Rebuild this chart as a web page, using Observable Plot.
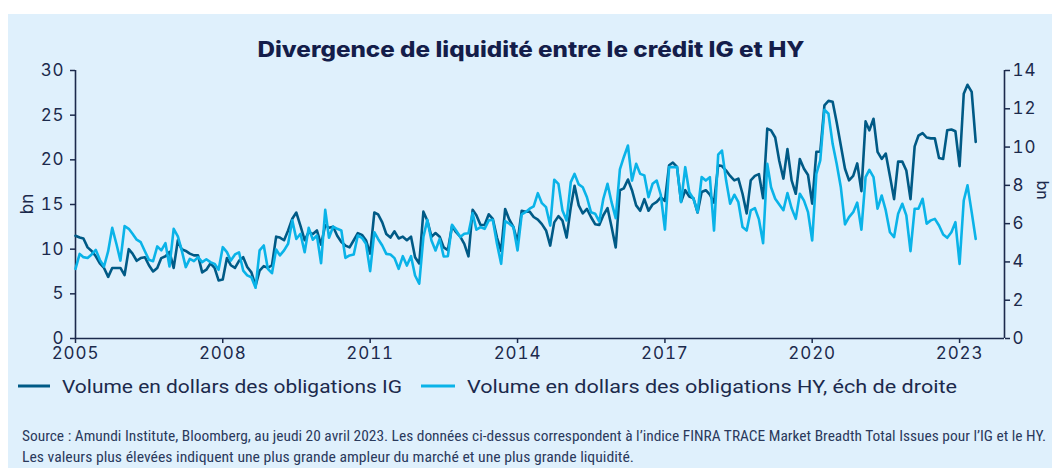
<!DOCTYPE html>
<html>
<head>
<meta charset="utf-8">
<script src="https://cdn.jsdelivr.net/npm/d3@7"></script>
<script src="https://cdn.jsdelivr.net/npm/@observablehq/plot@0.6"></script>
<style>
  html, body { margin: 0; padding: 0; background: #ffffff; }
  #wrap { position: relative; width: 1052px; height: 468px; overflow: hidden; }
  #panel { position: absolute; left: 8px; top: 14px; width: 1044px; height: 454px; background: #dff0fc; }
  #chart { position: absolute; left: 0; top: 60px; }
  #chart svg text { letter-spacing: 0.9px; }
  #overlay { position: absolute; left: 0; top: 0; }
</style>
</head>
<body>
<div id="wrap">
  <div id="panel"></div>
  <div id="chart"></div>
  <svg id="overlay" width="1052" height="468"></svg>
</div>
<script>
// ---- Data (monthly, starting January 2005) ----
const startYear = 2005;
const igVolume = [
  11.5, 11.3, 11.2, 10.2, 9.8, 9.2, 8.4, 7.9, 6.9, 7.9,
  7.9, 7.9, 7.1, 10.0, 9.5, 8.7, 9.0, 9.1, 8.2, 7.5,
  7.9, 9.0, 9.2, 9.7, 7.9, 11.0, 10.0, 9.8, 9.5, 9.3,
  9.3, 7.4, 7.7, 8.4, 7.9, 6.5, 6.6, 9.0, 8.2, 7.9,
  8.7, 9.1, 8.0, 7.4, 5.9, 7.6, 8.1, 7.9, 8.2, 11.4,
  11.3, 11.0, 12.1, 13.4, 14.1, 12.6, 11.0, 11.9, 11.7, 12.1,
  10.5, 12.7, 12.4, 12.5, 11.5, 10.8, 10.4, 10.2, 11.0, 11.8,
  11.6, 11.0, 9.5, 14.1, 13.9, 13.0, 11.7, 11.3, 12.0, 11.2,
  11.4, 11.0, 11.4, 9.1, 8.4, 14.2, 13.2, 11.4, 11.8, 11.4,
  10.2, 9.9, 12.6, 11.9, 11.4, 10.6, 9.2, 14.4, 13.8, 12.7,
  12.7, 13.9, 13.4, 11.3, 9.8, 14.5, 13.3, 12.5, 10.8, 14.3,
  14.2, 14.2, 13.6, 13.3, 12.8, 12.1, 10.4, 13.0, 13.7, 13.2,
  11.3, 14.7, 17.1, 14.9, 14.0, 14.5, 13.6, 12.8, 12.7, 13.8,
  14.6, 12.5, 10.2, 16.6, 16.8, 17.8, 16.6, 14.9, 14.3, 15.6,
  14.3, 15.0, 15.3, 15.8, 15.4, 19.4, 19.7, 19.2, 15.3, 16.6,
  15.9, 15.7, 14.1, 16.4, 16.6, 16.1, 15.2, 19.4, 19.3, 18.8,
  18.2, 17.7, 17.9, 16.2, 14.0, 17.7, 18.2, 18.4, 15.7, 23.5,
  23.3, 22.5, 19.9, 17.9, 21.2, 17.7, 16.2, 20.1, 19.0, 18.3,
  15.1, 20.9, 20.9, 26.1, 26.6, 26.5, 24.2, 21.6, 19.0, 17.7,
  18.2, 19.6, 16.5, 24.3, 23.3, 24.6, 20.9, 20.1, 20.7, 18.2,
  15.6, 19.8, 19.8, 18.8, 15.6, 21.5, 22.7, 23.0, 22.5, 22.4,
  22.4, 20.2, 20.1, 23.3, 23.4, 23.2, 19.3, 27.4, 28.4, 27.6,
  22.0
];
const hyVolume = [
  3.64, 4.42, 4.25, 4.21, 4.39, 4.63, 4.11, 3.76, 4.56, 5.78,
  4.95, 4.07, 5.87, 5.73, 5.47, 5.16, 5.03, 4.56, 4.11, 4.04,
  4.81, 4.6, 4.98, 3.76, 5.73, 5.33, 4.63, 3.73, 4.16, 4.04,
  4.25, 3.99, 4.14, 3.99, 3.9, 3.59, 4.77, 4.51, 4.07, 4.39,
  4.5, 3.55, 3.3, 3.2, 2.65, 4.6, 4.86, 3.64, 3.41, 4.65,
  4.34, 4.6, 4.95, 6.17, 5.2, 5.47, 4.51, 5.78, 5.16, 5.38,
  3.93, 6.72, 5.26, 5.85, 5.73, 5.64, 4.21, 4.34, 4.39, 5.38,
  5.26, 4.95, 3.52, 5.55, 5.2, 4.86, 4.42, 4.39, 4.2, 3.64,
  4.3, 3.81, 4.3, 3.29, 2.86, 5.3, 6.2, 5.12, 4.6, 5.2,
  4.28, 4.3, 5.94, 5.64, 5.3, 5.47, 5.5, 6.55, 5.68, 5.82,
  5.73, 6.17, 6.2, 4.95, 3.9, 6.13, 6.0, 5.82, 4.6, 6.48,
  6.6, 6.78, 6.9, 7.59, 7.07, 6.86, 5.9, 8.29, 8.08, 6.69,
  6.17, 8.17, 8.6, 8.05, 7.9, 7.38, 6.6, 6.52, 6.11, 7.3,
  8.08, 7.12, 6.29, 8.83, 9.47, 10.08, 8.25, 9.13, 8.6, 8.52,
  7.38, 8.08, 8.25, 7.51, 5.69, 8.95, 8.95, 8.95, 7.12, 8.95,
  7.64, 7.3, 6.6, 8.43, 8.25, 8.43, 5.64, 9.6, 9.82, 8.25,
  7.04, 7.51, 7.12, 5.82, 5.64, 6.69, 6.81, 6.22, 4.98, 9.13,
  7.9, 7.3, 7.0, 6.7, 7.6, 6.8, 6.25, 7.56, 7.2, 6.6,
  5.12, 8.6, 9.3, 11.95, 11.74, 10.17, 9.13, 7.9, 5.96, 6.34,
  6.6, 7.1, 5.68, 8.43, 8.81, 8.43, 6.78, 7.47, 6.69, 5.55,
  5.3, 6.52, 7.04, 6.43, 4.56, 6.78, 6.78, 7.3, 6.0, 6.17,
  6.25, 5.9, 5.43, 5.26, 5.55, 6.08, 3.9, 7.21, 8.0, 6.6,
  5.2
];
const leftTicks = [0, 5, 10, 15, 20, 25, 30];
const rightTicks = [0, 2, 4, 6, 8, 10, 12, 14];
const xTickYears = [2005, 2008, 2011, 2014, 2017, 2020, 2023];
const titleText = "Divergence de liquidité entre le crédit IG et HY";
const legendLabels = ["Volume en dollars des obligations IG", "Volume en dollars des obligations HY, éch de droite"];
const axisUnit = "bn";
const sourceLines = [
  "Source : Amundi Institute, Bloomberg, au jeudi 20 avril 2023. Les données ci-dessus correspondent à l’indice FINRA TRACE Market Breadth Total Issues pour l’IG et le HY.",
  "Les valeurs plus élevées indiquent une plus grande ampleur du marché et une plus grande liquidité."
];

// ---- Styling ----
const darkBlue = "#005a86";
const lightBlue = "#0ab3e8";
const navy = "#1c2a4c";
const leftMax = 30, rightMax = 14;
const k = leftMax / rightMax;

const start = new Date(Date.UTC(startYear, 0, 1));
const dateAt = i => d3.utcMonth.offset(start, i);
const igData = igVolume.map((v, i) => ({date: dateAt(i), v}));
const hyData = hyVolume.map((v, i) => ({date: dateAt(i), v}));
const xDomain = [start, new Date(Date.UTC(2023, 11, 1))];

const chart = Plot.plot({
  width: 1052,
  height: 300,
  marginLeft: 75,
  marginRight: 48,
  marginTop: 10,
  marginBottom: 22,
  style: {background: "transparent", fontFamily: "Inter, 'Open Sans', sans-serif", fontSize: "17px", color: navy, overflow: "visible"},
  x: {type: "utc", domain: xDomain},
  y: {domain: [0, leftMax]},
  marks: [
    Plot.axisY({ticks: leftTicks, tickSize: 5, tickPadding: 6, label: null, stroke: navy, strokeWidth: 1.5, fill: navy}),
    Plot.axisY({anchor: "right", ticks: rightTicks.map(v => v * k), tickFormat: d => String(Math.round(d / k)), tickSize: 5, tickPadding: 3, label: null, stroke: navy, strokeWidth: 1.5, fill: navy}),
    Plot.axisX({ticks: xTickYears.map(y => new Date(Date.UTC(y, 0, 1))), tickFormat: d3.utcFormat("%Y"), tickSize: 5, tickPadding: 3, label: null, stroke: navy, strokeWidth: 1.5, fill: navy}),
    Plot.ruleX([xDomain[0]], {stroke: navy, strokeWidth: 1.6}),
    Plot.ruleX([xDomain[1]], {stroke: navy, strokeWidth: 1.6}),
    Plot.ruleY([0], {stroke: navy, strokeWidth: 1.6}),
    Plot.lineY(igData, {x: "date", y: "v", stroke: darkBlue, strokeWidth: 2.6, strokeLinejoin: "round"}),
    Plot.lineY(hyData, {x: "date", y: d => d.v * k, stroke: lightBlue, strokeWidth: 2.6, strokeLinejoin: "round"})
  ]
});
document.getElementById("chart").appendChild(chart);

// ---- Overlay texts ----
const ov = d3.select("#overlay");
ov.append("text").attr("x", 531).attr("y", 57).attr("text-anchor", "middle")
  .attr("font-family", "Inter, sans-serif").attr("font-weight", 800).attr("font-size", 21)
  .attr("textLength", 547).attr("lengthAdjust", "spacingAndGlyphs")
  .attr("fill", "#141d4a").text(titleText);

ov.append("text").attr("transform", "translate(33,204) rotate(-90)").attr("text-anchor", "middle")
  .attr("font-family", "Inter, sans-serif").attr("font-size", 17).attr("fill", navy).text(axisUnit);
ov.append("text").attr("transform", "translate(1037,190) rotate(90)").attr("text-anchor", "middle")
  .attr("font-family", "Inter, sans-serif").attr("font-size", 16).attr("fill", navy).text(axisUnit);

// legend
const legendItems = [
  {x0: 18, x1: 50, tx: 62, len: 340, color: darkBlue, label: legendLabels[0]},
  {x0: 421, x1: 455, tx: 467, len: 490, color: lightBlue, label: legendLabels[1]}
];
legendItems.forEach(it => {
  ov.append("line").attr("x1", it.x0).attr("x2", it.x1).attr("y1", 386).attr("y2", 386)
    .attr("stroke", it.color).attr("stroke-width", 3);
  ov.append("text").attr("x", it.tx).attr("y", 392.5).attr("font-family", "Roboto, sans-serif")
    .attr("font-size", 19).attr("fill", navy)
    .attr("textLength", it.len).attr("lengthAdjust", "spacingAndGlyphs").text(it.label);
});

// source
const srcY = [441, 462];
const srcLen = [1024, 612];
sourceLines.forEach((s, i) => {
  ov.append("text").attr("x", 22).attr("y", srcY[i]).attr("font-family", "'Liberation Sans Narrow', 'Roboto Condensed', Roboto, sans-serif")
    .attr("font-size", 14.5).attr("fill", "#2b3a5c")
    .attr("textLength", srcLen[i]).attr("lengthAdjust", "spacingAndGlyphs").text(s);
});
</script>
</body>
</html>
